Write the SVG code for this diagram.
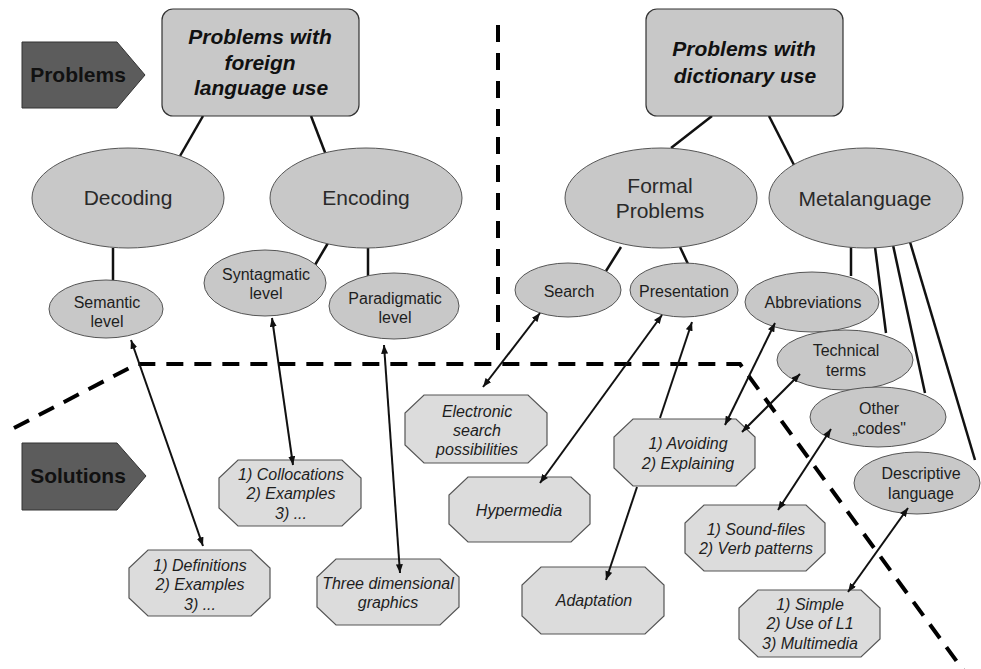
<svg xmlns="http://www.w3.org/2000/svg" width="981" height="669" viewBox="0 0 981 669">
  <defs>
    <marker id="arrow" viewBox="0 0 10 8" refX="10" refY="4" markerWidth="9" markerHeight="7" markerUnits="userSpaceOnUse" orient="auto-start-reverse">
      <path d="M0,0 L10,4 L0,8 z" fill="#111"/>
    </marker>
    <style>
      .bg { fill: #ffffff; }
      .label-shape { fill: #5c5c5c; stroke: #333; stroke-width: 1; }
      .label-text { font-family: "Liberation Sans", Arial, sans-serif; font-weight: bold; font-size: 21px; fill: #111; text-anchor: middle; }
      .topbox { fill: #c8c8c8; stroke: #333; stroke-width: 1.2; }
      .title { font-family: "Liberation Sans", Arial, sans-serif; font-weight: bold; font-style: italic; font-size: 21px; fill: #111; text-anchor: middle; }
      .ell { fill: #c8c8c8; stroke: #555; stroke-width: 1; }
      .big { font-family: "Liberation Sans", Arial, sans-serif; font-size: 21px; fill: #2a2a2a; text-anchor: middle; }
      .small { font-family: "Liberation Sans", Arial, sans-serif; font-size: 16px; fill: #1e1e1e; text-anchor: middle; }
      .oct { fill: #dcdcdc; stroke: #555; stroke-width: 1.2; }
      .sol { font-family: "Liberation Sans", Arial, sans-serif; font-style: italic; font-size: 16px; fill: #1e1e1e; text-anchor: middle; }
      .tree line { stroke: #111; stroke-width: 2.5; }
      .links line { stroke: #111; stroke-width: 2; }
      .divider { fill: none; stroke: #000; stroke-width: 4; stroke-dasharray: 17 11; }
    </style>
  </defs>

  <rect class="bg" x="0" y="0" width="981" height="669"/>

  <!-- dashed dividers between problem and solution areas -->
  <g id="dividers">
    <path class="divider" d="M498,25 L498,355"/>
    <path class="divider" d="M14,428 L137,364 L740,364 L966,674"/>
  </g>

  <!-- tree connectors -->
  <g id="tree-connectors" class="tree">
    <line x1="203" y1="116" x2="180" y2="156"/>
    <line x1="311" y1="116" x2="326" y2="155"/>
    <line x1="113" y1="248" x2="113" y2="280"/>
    <line x1="328" y1="243" x2="315" y2="265"/>
    <line x1="368" y1="248" x2="368" y2="281"/>
    <line x1="712" y1="116" x2="671" y2="148"/>
    <line x1="769" y1="116" x2="794" y2="165"/>
    <line x1="621" y1="247" x2="606" y2="271"/>
    <line x1="680" y1="247" x2="688" y2="264"/>
    <line x1="851" y1="246" x2="851" y2="276"/>
    <line x1="875" y1="247" x2="886" y2="333"/>
    <line x1="893" y1="245" x2="925" y2="393"/>
    <line x1="910" y1="242" x2="975" y2="460"/>
  </g>

  <!-- side labels -->
  <g id="label-problems">
    <polygon class="label-shape" points="22,42 117,42 145,75 117,108 22,108"/>
    <text class="label-text" x="78" y="82">Problems</text>
  </g>
  <g id="label-solutions">
    <polygon class="label-shape" points="22,443 117,443 146,476 117,510 22,510"/>
    <text class="label-text" x="78" y="483">Solutions</text>
  </g>

  <!-- top-level problem boxes -->
  <g id="foreign-language-use">
    <rect class="topbox" x="162" y="9" width="197" height="107" rx="11"/>
    <text class="title" x="260" y="44">Problems with</text>
    <text class="title" x="260" y="70">foreign</text>
    <text class="title" x="261" y="95">language use</text>
  </g>
  <g id="dictionary-use">
    <rect class="topbox" x="646" y="9" width="197" height="107" rx="11"/>
    <text class="title" x="744" y="56">Problems with</text>
    <text class="title" x="745" y="83">dictionary use</text>
  </g>

  <!-- problem categories -->
  <g id="decoding">
    <ellipse class="ell" cx="128" cy="198" rx="96" ry="50"/>
    <text class="big" x="128" y="205">Decoding</text>
  </g>
  <g id="encoding">
    <ellipse class="ell" cx="366" cy="198" rx="96" ry="50"/>
    <text class="big" x="366" y="205">Encoding</text>
  </g>
  <g id="formal-problems">
    <ellipse class="ell" cx="661" cy="198" rx="96" ry="50"/>
    <text class="big" x="660" y="193">Formal</text>
    <text class="big" x="660" y="218">Problems</text>
  </g>
  <g id="metalanguage">
    <ellipse class="ell" cx="866" cy="198" rx="97" ry="50"/>
    <text class="big" x="865" y="206">Metalanguage</text>
  </g>

  <!-- sub-problems -->
  <g id="semantic-level">
    <ellipse class="ell" cx="106" cy="309" rx="57" ry="29"/>
    <text class="small" x="107" y="308">Semantic</text>
    <text class="small" x="107" y="327">level</text>
  </g>
  <g id="syntagmatic-level">
    <ellipse class="ell" cx="265" cy="283" rx="61" ry="33"/>
    <text class="small" x="266" y="280">Syntagmatic</text>
    <text class="small" x="266" y="299">level</text>
  </g>
  <g id="paradigmatic-level">
    <ellipse class="ell" cx="394" cy="306" rx="65" ry="33"/>
    <text class="small" x="395" y="304">Paradigmatic</text>
    <text class="small" x="395" y="323">level</text>
  </g>
  <g id="search">
    <ellipse class="ell" cx="568" cy="290" rx="53" ry="27"/>
    <text class="small" x="569" y="297">Search</text>
  </g>
  <g id="presentation">
    <ellipse class="ell" cx="684" cy="290" rx="54" ry="27"/>
    <text class="small" x="684" y="297">Presentation</text>
  </g>
  <g id="abbreviations">
    <ellipse class="ell" cx="812" cy="302" rx="67" ry="30"/>
    <text class="small" x="813" y="308">Abbreviations</text>
  </g>
  <g id="technical-terms">
    <ellipse class="ell" cx="845" cy="360" rx="68" ry="30"/>
    <text class="small" x="846" y="356">Technical</text>
    <text class="small" x="846" y="376">terms</text>
  </g>
  <g id="other-codes">
    <ellipse class="ell" cx="878" cy="417" rx="68" ry="30"/>
    <text class="small" x="879" y="414">Other</text>
    <text class="small" x="879" y="434">„codes"</text>
  </g>
  <g id="descriptive-language">
    <ellipse class="ell" cx="917" cy="483" rx="63" ry="31"/>
    <text class="small" x="921" y="479">Descriptive</text>
    <text class="small" x="921" y="499">language</text>
  </g>

  <!-- solutions -->
  <g id="definitions">
    <polygon class="oct" points="148,550 251,550 270,568 270,598 251,616 148,616 129,598 129,568"/>
    <text class="sol" x="200" y="571">1) Definitions</text>
    <text class="sol" x="200" y="590">2) Examples</text>
    <text class="sol" x="200" y="610">3) ...</text>
  </g>
  <g id="collocations">
    <polygon class="oct" points="238,460 342,460 361,478 361,508 342,526 238,526 219,508 219,478"/>
    <text class="sol" x="291" y="480">1) Collocations</text>
    <text class="sol" x="291" y="499">2) Examples</text>
    <text class="sol" x="291" y="519">3) ...</text>
  </g>
  <g id="three-dimensional-graphics">
    <polygon class="oct" points="336,559 440,559 459,577 459,607 440,625 336,625 317,607 317,577"/>
    <text class="sol" x="388" y="589">Three dimensional</text>
    <text class="sol" x="388" y="608">graphics</text>
  </g>
  <g id="electronic-search">
    <polygon class="oct" points="424,395 528,395 547,413 547,445 528,463 424,463 405,445 405,413"/>
    <text class="sol" x="477" y="417">Electronic</text>
    <text class="sol" x="477" y="436">search</text>
    <text class="sol" x="477" y="455">possibilities</text>
  </g>
  <g id="hypermedia">
    <polygon class="oct" points="468,477 571,477 590,495 590,524 571,542 468,542 449,524 449,495"/>
    <text class="sol" x="519" y="516">Hypermedia</text>
  </g>
  <g id="avoiding-explaining">
    <polygon class="oct" points="633,419 736,419 755,437 755,468 736,486 633,486 614,468 614,437"/>
    <text class="sol" x="688" y="449">1) Avoiding</text>
    <text class="sol" x="688" y="469">2) Explaining</text>
  </g>
  <g id="adaptation">
    <polygon class="oct" points="541,567 645,567 664,585 664,616 645,634 541,634 522,616 522,585"/>
    <text class="sol" x="594" y="606">Adaptation</text>
  </g>
  <g id="sound-files">
    <polygon class="oct" points="704,505 806,505 825,523 825,553 806,571 704,571 685,553 685,523"/>
    <text class="sol" x="756" y="535">1) Sound-files</text>
    <text class="sol" x="756" y="554">2) Verb patterns</text>
  </g>
  <g id="simple-language">
    <polygon class="oct" points="758,590 861,590 880,608 880,639 861,657 758,657 739,639 739,608"/>
    <text class="sol" x="810" y="610">1) Simple</text>
    <text class="sol" x="810" y="629">2) Use of L1</text>
    <text class="sol" x="810" y="649">3) Multimedia</text>
  </g>

  <!-- problem/solution links, drawn above the nodes so arrowheads stay visible -->
  <g id="solution-links" class="links">
    <line x1="131" y1="340" x2="203" y2="546" marker-start="url(#arrow)" marker-end="url(#arrow)"/>
    <line x1="272" y1="318" x2="293" y2="465" marker-start="url(#arrow)" marker-end="url(#arrow)"/>
    <line x1="384" y1="345" x2="400" y2="573" marker-start="url(#arrow)" marker-end="url(#arrow)"/>
    <line x1="540" y1="313" x2="483" y2="387" marker-start="url(#arrow)" marker-end="url(#arrow)"/>
    <line x1="662" y1="315" x2="540" y2="483" marker-start="url(#arrow)" marker-end="url(#arrow)"/>
    <line x1="660" y1="418" x2="692" y2="322" marker-end="url(#arrow)"/>
    <line x1="637" y1="487" x2="606" y2="580" marker-end="url(#arrow)"/>
    <line x1="775" y1="323" x2="725" y2="425" marker-start="url(#arrow)" marker-end="url(#arrow)"/>
    <line x1="800" y1="374" x2="742" y2="432" marker-start="url(#arrow)" marker-end="url(#arrow)"/>
    <line x1="831" y1="429" x2="778" y2="510" marker-start="url(#arrow)" marker-end="url(#arrow)"/>
    <line x1="908" y1="508" x2="848" y2="592" marker-start="url(#arrow)" marker-end="url(#arrow)"/>
  </g>
</svg>
